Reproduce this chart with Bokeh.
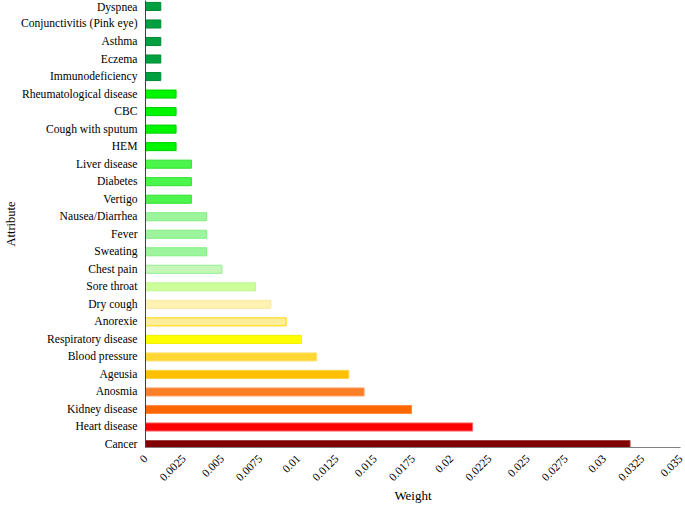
import math
from bokeh.plotting import figure
from bokeh.models import ColumnDataSource, Range1d, FixedTicker
from bokeh.embed import file_html
from bokeh.resources import INLINE

# Data (bottom to top order as drawn: Cancer at bottom)
attributes = [
    "Cancer", "Heart disease", "Kidney disease", "Anosmia", "Ageusia",
    "Blood pressure", "Respiratory disease", "Anorexie", "Dry cough",
    "Sore throat", "Chest pain", "Sweating", "Fever", "Nausea/Diarrhea",
    "Vertigo", "Diabetes", "Liver disease", "HEM", "Cough with sputum",
    "CBC", "Rheumatological disease", "Immunodeficiency", "Eczema",
    "Asthma", "Conjunctivitis (Pink eye)", "Dyspnea",
]
weights = [
    0.0317, 0.0214, 0.0174, 0.0143, 0.0133,
    0.0112, 0.0102, 0.0092, 0.0082,
    0.0072, 0.0050, 0.0040, 0.0040, 0.0040,
    0.0030, 0.0030, 0.0030, 0.0020, 0.0020,
    0.0020, 0.0020, 0.0010, 0.0010,
    0.0010, 0.0010, 0.0010,
]
fill_colors = [
    "#800000", "#ff0000", "#ff6600", "#ff7f27", "#ffc000",
    "#ffd633", "#ffff00", "#ffee99", "#fff2b3",
    "#ccff99", "#c6f7b8", "#9cf59c", "#9cf59c", "#9cf59c",
    "#4cf54c", "#4cf54c", "#4cf54c", "#00f500", "#00f500",
    "#00f500", "#00f500", "#00a040", "#00a040",
    "#00a040", "#00a040", "#00a040",
]
line_colors = [
    "#a04040", "#ff6060", "#ff8a40", "#ff9f60", "#ffd040",
    "#ffe070", "#f0f000", "#ffd700", "#f8e8a0",
    "#c0f590", "#90ee90", "#80ee80", "#80ee80", "#80ee80",
    "#30e030", "#30e030", "#30e030", "#00d000", "#00d000",
    "#00d000", "#00d000", "#008a33", "#008a33",
    "#008a33", "#008a33", "#008a33",
]
x_ticks = [0, 0.0025, 0.005, 0.0075, 0.01, 0.0125, 0.015, 0.0175, 0.02,
           0.0225, 0.025, 0.0275, 0.03, 0.0325, 0.035]
x_tick_labels = ["0", "0.0025", "0.005", "0.0075", "0.01", "0.0125", "0.015",
                 "0.0175", "0.02", "0.0225", "0.025", "0.0275", "0.03",
                 "0.0325", "0.035"]
x_title = "Weight"
y_title = "Attribute"

pos = list(range(len(attributes)))
src = ColumnDataSource(dict(y=pos, w=weights, fc=fill_colors, lc=line_colors))

FONT = "Liberation Serif"

p = figure(width=685, height=508, output_backend="svg", toolbar_location=None,
           x_range=Range1d(0, 0.035),
           y_range=Range1d(-0.17, len(attributes) - 1 + 0.34),
           min_border_left=145, min_border_right=5, min_border_top=0,
           min_border_bottom=61)

p.hbar(y="y", right="w", left=0, height=0.46, source=src,
       fill_color="fc", line_color="lc", line_width=1)

p.outline_line_color = None
p.xgrid.visible = False
p.ygrid.visible = False
p.background_fill_color = "white"

# y axis
p.yaxis.ticker = FixedTicker(ticks=pos)
p.yaxis.major_label_overrides = {i: a for i, a in enumerate(attributes)}
p.yaxis.major_tick_line_color = None
p.yaxis.minor_tick_line_color = None
p.yaxis.axis_line_color = "#404040"
p.yaxis.major_label_text_font = FONT
p.yaxis.major_label_text_font_size = "11.6px"
p.yaxis.major_label_text_color = "#000000"
p.yaxis.major_label_standoff = 2
p.yaxis.axis_label = y_title
p.yaxis.axis_label_text_font = FONT
p.yaxis.axis_label_text_font_size = "12.5px"
p.yaxis.axis_label_text_font_style = "normal"
p.yaxis.axis_label_text_color = "#000000"
p.yaxis.axis_label_standoff = 0

# x axis
p.xaxis.ticker = FixedTicker(ticks=x_ticks)
p.xaxis.major_label_overrides = {t: l for t, l in zip(x_ticks, x_tick_labels)}
p.xaxis.major_tick_line_color = None
p.xaxis.minor_tick_line_color = None
p.xaxis.axis_line_color = "#808080"
p.xaxis.major_label_orientation = math.pi / 4
p.xaxis.major_label_text_font = FONT
p.xaxis.major_label_text_font_size = "11.5px"
p.xaxis.major_label_text_color = "#000000"
p.xaxis.major_label_standoff = 3
p.xaxis.axis_label = x_title
p.xaxis.axis_label_text_font = FONT
p.xaxis.axis_label_text_font_size = "13px"
p.xaxis.axis_label_text_font_style = "normal"
p.xaxis.axis_label_text_color = "#000000"
p.xaxis.axis_label_standoff = 0

open("out.html", "w").write(file_html(p, INLINE))
